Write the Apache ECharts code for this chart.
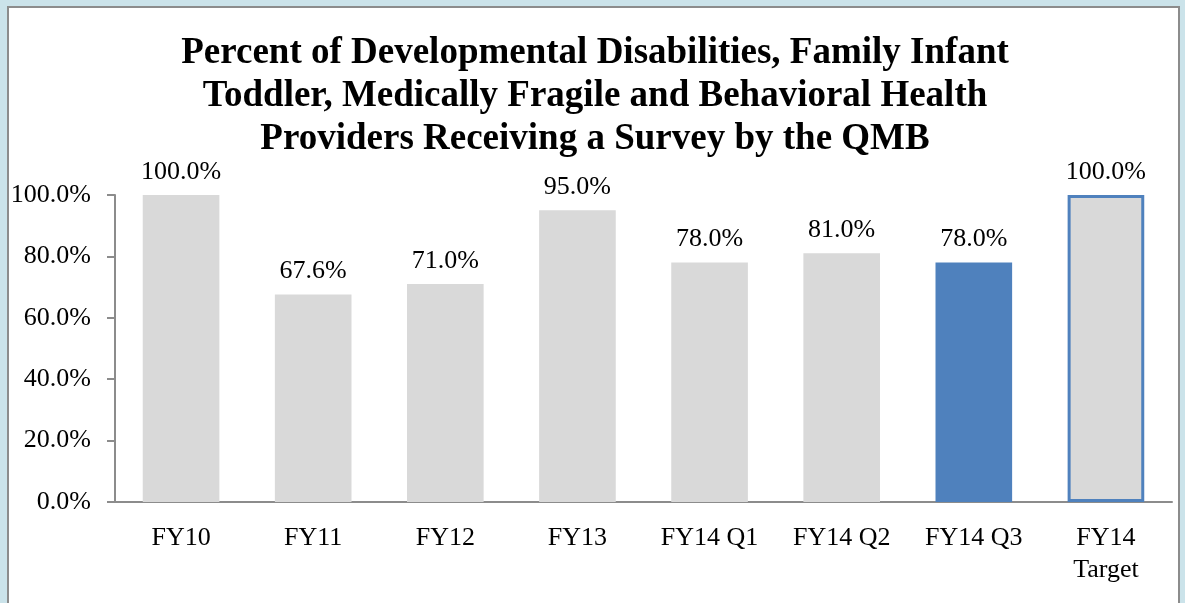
<!DOCTYPE html>
<html><head><meta charset="utf-8">
<script src="https://cdn.jsdelivr.net/npm/echarts@6/dist/echarts.min.js"></script>
<style>
html,body{margin:0;padding:0;width:1185px;height:603px;background:#cbe3ea;overflow:hidden;}
#panel{position:absolute;left:7px;top:6px;width:1169px;height:620px;background:#fff;border:2px solid #8c8c8c;border-bottom:none;}
#c{position:absolute;left:0;top:0;width:1185px;height:603px;}
</style></head>
<body><div id="panel"></div><div id="c"></div>
<script>
const categories = ['FY10','FY11','FY12','FY13','FY14 Q1','FY14 Q2','FY14 Q3','FY14\nTarget'];
const values = [100.0, 67.6, 71.0, 95.0, 78.0, 81.0, 78.0, 100.0];
const yTicks = [0, 20, 40, 60, 80, 100];
const titleText = 'Percent of Developmental Disabilities, Family Infant\nToddler, Medically Fragile and Behavioral Health\nProviders Receiving a Survey by the QMB';

const font = 'Liberation Serif, Times New Roman, serif';
const data = values.map((v, i) => {
  if (i === 6) return {value: v, itemStyle: {color: '#4f81bd'}};
  if (i === 7) return {value: v, itemStyle: {color: '#d9d9d9', borderColor: '#4f81bd', borderWidth: 3}};
  return {value: v};
});
const chart = echarts.init(document.getElementById('c'));
chart.setOption({
  animation: false,
  backgroundColor: 'transparent',
  title: {
    text: titleText, left: 590, textAlign: 'center', top: 27,
    textStyle: {fontFamily: font, fontSize: 37, fontWeight: 'bold', color: '#000', lineHeight: 43}
  },
  grid: {left: 115, right: 13, top: 195, bottom: 101},
  xAxis: {
    type: 'category', data: categories,
    axisLine: {lineStyle: {color: '#8c8c8c', width: 2}},
    axisTick: {show: false},
    axisLabel: {fontFamily: font, fontSize: 26, color: '#000', margin: 20, lineHeight: 32}
  },
  yAxis: {
    type: 'value', min: 0, max: 100, interval: 20,
    axisLine: {show: true, lineStyle: {color: '#8c8c8c', width: 2}},
    axisTick: {show: true, length: 8, lineStyle: {color: '#8c8c8c', width: 2}},
    splitLine: {show: false},
    axisLabel: {fontFamily: font, fontSize: 26, color: '#000', margin: 24,
      formatter: v => yTicks.includes(v) ? v.toFixed(1) + '%' : ''}
  },
  series: [{
    type: 'bar', data: data, barWidth: '58%',
    itemStyle: {color: '#d9d9d9'},
    label: {show: true, position: 'top', distance: 10, fontFamily: font, fontSize: 26, color: '#000',
      formatter: p => p.value.toFixed(1) + '%'}
  }]
});
</script></body></html>
